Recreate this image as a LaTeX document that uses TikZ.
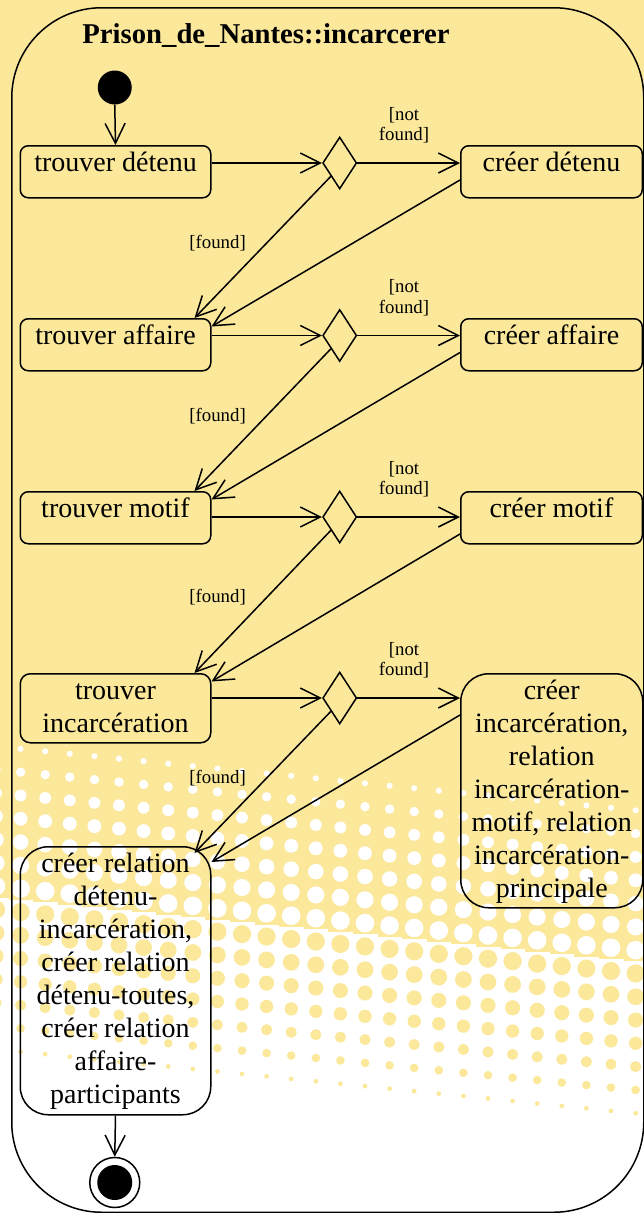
\documentclass[tikz,border=0pt]{standalone}
\usepackage{fontspec}
\setmainfont{Liberation Serif}
\usetikzlibrary{shapes.geometric,arrows.meta,calc}
\definecolor{bgyellow}{RGB}{251,232,155}

\tikzset{
  arr/.style={line width=1.5pt, -{Straight Barb[length=20pt,width=20pt,line width=1.5pt]}},
  box/.style={draw, line width=1.5pt, rounded corners=8pt, inner sep=0pt, anchor=north west, minimum height=52pt},
  leftbox/.style={box, minimum width=190.5pt},
  rightbox/.style={box, minimum width=181.5pt},
  boxtext/.style={font=\fontsize{28}{33}\selectfont, align=center, inner sep=0pt, anchor=north},
  guard/.style={font=\fontsize{18.8}{20.6}\selectfont, align=center, inner sep=0pt},
  choice/.style={draw, diamond, line width=1.5pt, minimum width=34pt, minimum height=52pt, inner sep=0pt},
}

\begin{document}
\begin{tikzpicture}[x=1pt,y=-1pt]
\useasboundingbox (0,0) rectangle (644,1213);

% background with halftone fade towards white at the bottom
\begin{scope}
  \clip (0,0) rectangle (644,1213);
  \fill[bgyellow] (0,0) rectangle (644,1213);
  \foreach \i in {0,...,27}{
    \foreach \j in {0,...,29}{
      \pgfmathsetmacro\hx{-4+24.6*\i}
      \pgfmathsetmacro\hy{560+23.3*\j+2.46*\i}
      \pgfmathsetmacro\hp{min(1,max(0,(\hy-730-0.1*\hx)/330))}
      \ifdim\hp pt>0.003pt
        \ifdim\hp pt<0.5pt
          \pgfmathsetmacro\hr{sqrt(\hp*573/3.14159)}
          \fill[white] (\hx,\hy) circle[radius=\hr];
        \else
          \fill[white] (\hx-12.6,\hy-12) rectangle (\hx+12.6,\hy+12);
          \ifdim\hp pt<0.995pt
            \pgfmathsetmacro\hr{sqrt((1-\hp)*573/3.14159)}
            \fill[bgyellow] (\hx,\hy) circle[radius=\hr];
          \fi
        \fi
      \fi
    }
  }
\end{scope}

% activity frame and title
\node[draw, line width=1.5pt, rounded corners=90pt, minimum width=632pt, minimum height=1204.5pt,
      anchor=north west, inner sep=0pt] (act) at (11,7) {};
\node[font=\bfseries\fontsize{28.7}{34}\selectfont, anchor=base, inner sep=0pt] (title)
      at (266,43.5) {Prison\_de\_Nantes::incarcerer};

% initial and final states
\node[circle, fill=black, minimum size=34pt, inner sep=0pt] (init) at (114.75,87.5) {};
\node[circle, draw, line width=1.5pt, minimum size=50pt, inner sep=0pt] (fin) at (114.75,1182.5) {};
\node[circle, fill=black, minimum size=35pt, inner sep=0pt] (fincore) at (fin) {};

% row 1
\node[leftbox] (tb1) at (19.5,145) {};
\node[boxtext] (tb1t) at ($(tb1.north)+(0,3.4)$) {\strut trouver détenu};
\node[rightbox] (cb1) at (460,145) {};
\node[boxtext] (cb1t) at ($(cb1.north)+(0,3.4)$) {\strut créer détenu};
\node[choice] (d1) at (339.7,163) {};

% row 2
\node[leftbox] (tb2) at (19.5,318) {};
\node[boxtext] (tb2t) at ($(tb2.north)+(0,3.4)$) {\strut trouver affaire};
\node[rightbox] (cb2) at (460,318) {};
\node[boxtext] (cb2t) at ($(cb2.north)+(0,3.4)$) {\strut créer affaire};
\node[choice] (d2) at (339.7,335.5) {};

% row 3
\node[leftbox] (tb3) at (19.5,491) {};
\node[boxtext] (tb3t) at ($(tb3.north)+(0,3.4)$) {\strut trouver motif};
\node[rightbox] (cb3) at (460,491) {};
\node[boxtext] (cb3t) at ($(cb3.north)+(0,3.4)$) {\strut créer motif};
\node[choice] (d3) at (339.7,517) {};

% row 4
\node[leftbox, minimum height=69pt, rounded corners=10pt] (tb4) at (19.5,673) {};
\node[boxtext] (tb4t) at ($(tb4.north)+(0,3.4)$) {\strut trouver\\incarcération};
\node[rightbox, minimum width=182pt, minimum height=234pt, rounded corners=28pt] (cb4) at (460,673) {};
\node[boxtext] (cb4t) at ($(cb4.north)+(0,3.4)$)
  {\strut créer\\incarcération,\\relation\\incarcération-\\motif, relation\\incarcération-\\principale};
\node[choice] (d4) at (339.7,698) {};

% row 5
\node[leftbox, minimum height=268pt, rounded corners=28pt] (tb5) at (19.5,846) {};
\node[boxtext] (tb5t) at ($(tb5.north)+(0,3.4)$)
  {\strut créer relation\\détenu-\\incarcération,\\créer relation\\détenu-toutes,\\créer relation\\affaire-\\participants};

% guard labels
\foreach \k in {1,2,3,4}{
  \node[guard, anchor=north] (nf\k) at ($(d\k)+(64.3,-57.6)$) {\strut[not\\found]};
  \node[guard, anchor=base] (fd\k) at ($(d\k)+(-122.1,85.8)$) {[found]};
}

% connectors
\draw[arr] (init.south) -- (tb1.north);
\foreach \k/\n in {1/2,2/3,3/4,4/5}{
  \draw[arr] (tb\k.east |- d\k) -- (d\k.west);
  \draw[arr] (d\k.east) -- (cb\k.west |- d\k);
  \coordinate (s\k) at ($(cb\k.west |- d\k)+(0,17)$);
}
\foreach \n in {2,3,4}{
  \coordinate (f\n) at ($(tb\n.north east)+(-17,0)$);
  \coordinate (o\n) at ($(tb\n.north east)+(0,8.5)$);
}
\coordinate (f5) at ($(tb5.north east)+(-17,7)$);
\coordinate (o5) at ($(tb5.north east)+(0,16)$);
\foreach \k/\n in {1/2,2/3,3/4,4/5}{
  \draw[arr] (d\k.south west) -- (f\n);
  \draw[arr] (s\k) -- (o\n);
}
\draw[arr] (tb5.south) -- (fin.north);
\end{tikzpicture}
\end{document}
